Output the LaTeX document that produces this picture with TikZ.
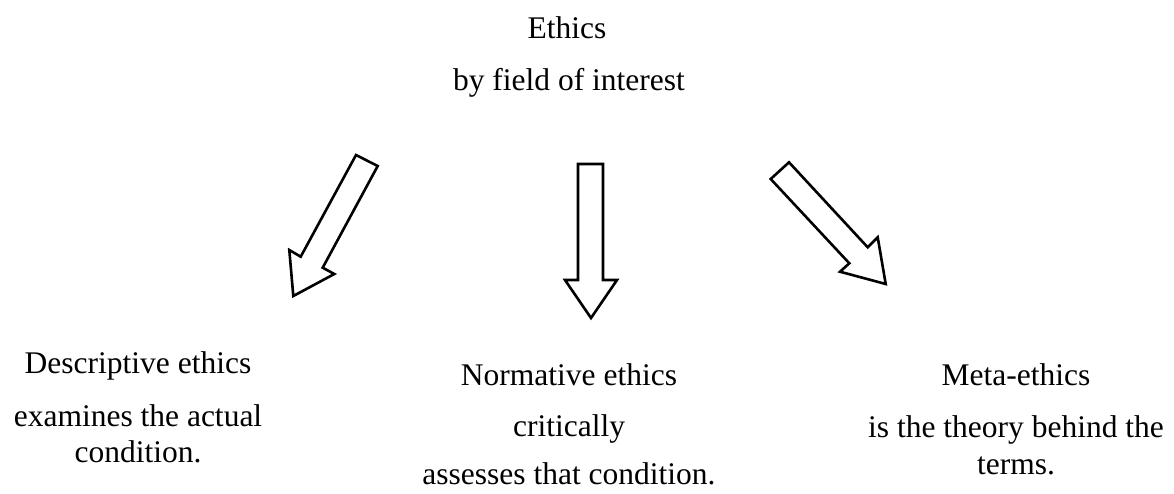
\documentclass[tikz,border=0pt]{standalone}
\usepackage{fontspec}
\setmainfont{Liberation Serif}
\begin{document}
\begin{tikzpicture}[x=1pt,y=-1pt,
  txt/.style={anchor=base, inner sep=0pt, font=\fontsize{31.5}{36}\selectfont},
  blockarrow/.style={draw=black, line width=2.6pt, line join=miter, fill=white}]
\useasboundingbox (0,0) rectangle (1174,493);
% title
\node[txt] (ethics) at (567,38) {Ethics};
\node[txt] (field) at (569,90) {by field of interest};
% left group
\node[txt] (desc) at (138,373) {Descriptive ethics};
\node[txt] (desc2) at (138,426) {examines the actual};
\node[txt] (desc3) at (138,462) {condition.};
% middle group
\node[txt] (norm) at (569,385) {Normative ethics};
\node[txt] (norm2) at (569,436) {critically};
\node[txt] (norm3) at (569,484) {assesses that condition.};
% right group
\node[txt] (meta) at (1016,385) {Meta-ethics};
\node[txt] (meta2) at (1016,437) {is the theory behind the};
\node[txt] (meta3) at (1016,474) {terms.};
% block arrows
\draw[blockarrow] (356,155) -- (377.7,166) -- (322.7,267.7) -- (334.3,274)
  -- (293.3,296) -- (289.3,250) -- (300.7,256.7) -- cycle;
\draw[blockarrow] (578,164) -- (603,164) -- (603,280) -- (617,280)
  -- (591,318) -- (565,280) -- (578,280) -- cycle;
\draw[blockarrow] (789,162.3) -- (867.7,247.3) -- (877.7,237.3) -- (885.7,284)
  -- (840,271.7) -- (849.3,263.3) -- (770.7,179) -- cycle;
\end{tikzpicture}
\end{document}
